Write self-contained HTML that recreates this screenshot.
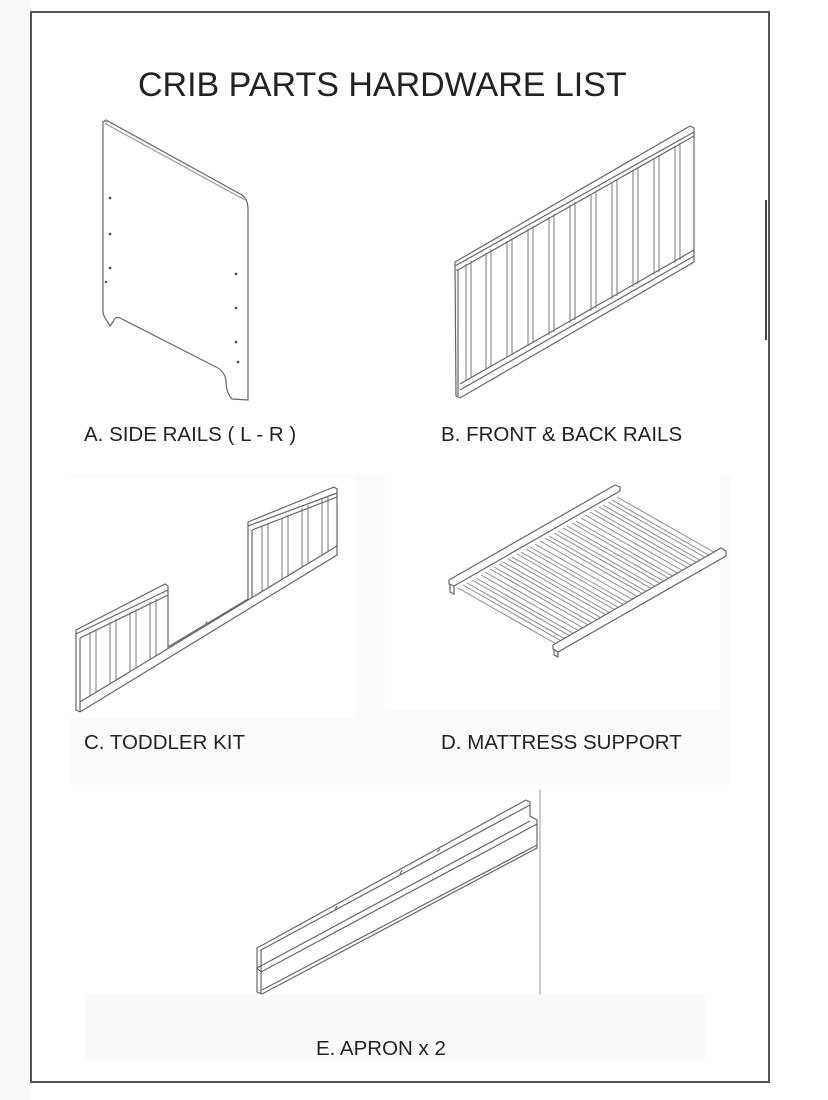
<!DOCTYPE html>
<html><head><meta charset="utf-8"><style>
html,body{margin:0;padding:0;background:#fff;}
body{width:828px;height:1100px;position:relative;overflow:hidden;font-family:"Liberation Sans",Arial,sans-serif;}
.frame{position:absolute;left:30px;top:11px;width:736px;height:1068px;border:2px solid #555;box-sizing:content-box;}
.t{position:absolute;color:#222;white-space:nowrap;}
</style></head><body>
<div style="position:absolute;left:0;top:0;width:30px;height:1100px;background:#f9f9f9"></div>
<div style="position:absolute;left:85px;top:995px;width:620px;height:65px;background:#fafafa"></div>
<div style="position:absolute;left:70px;top:475px;width:660px;height:310px;background:#fbfbfb"></div>
<div style="position:absolute;left:70px;top:478px;width:285px;height:240px;background:#fff"></div>
<div style="position:absolute;left:385px;top:470px;width:335px;height:240px;background:#fff"></div>
<div class="frame"></div>
<div class="t" style="left:138px;top:66px;font-size:34px;">CRIB PARTS HARDWARE LIST</div>
<div class="t" style="left:84px;top:423px;font-size:20.5px;">A. SIDE RAILS ( L - R )</div>
<div class="t" style="left:441px;top:423px;font-size:20.5px;">B. FRONT &amp; BACK RAILS</div>
<div class="t" style="left:84px;top:731px;font-size:20.5px;">C. TODDLER KIT</div>
<div class="t" style="left:441px;top:731px;font-size:20.5px;">D. MATTRESS SUPPORT</div>
<div class="t" style="left:316px;top:1037px;font-size:20.5px;">E. APRON x 2</div>
<svg width="828" height="1100" style="position:absolute;left:0;top:0" fill="none" stroke="#666" stroke-width="1.2">
<!-- A side rail -->
<path d="M103,122 L106,120 L242,195 Q248,199 248,210 L248,400 L232,399 Q226,393 226,380 Q224,370 214,366 L120,318 Q115,316 113,322 L110,326 L104,316 L103,312 Z"/>
<path d="M106,120 L106,124 L245,200" stroke="#999"/>
<g fill="#444" stroke="none">
<circle cx="110" cy="198" r="1.3"/><circle cx="110" cy="234" r="1.3"/><circle cx="110" cy="268" r="1.3"/><circle cx="106" cy="282" r="1.2"/>
<circle cx="236" cy="274" r="1.3"/><circle cx="236" cy="308" r="1.3"/><circle cx="236" cy="342" r="1.3"/><circle cx="238" cy="362" r="1.3"/>
</g>
<!-- B front rail -->
<path d="M455,262 L690,126 L694,128 L694,262 L460,398 L456,396 Z"/>
<path d="M455,266 L694,132 M458,270 L694,136 M456,270 L458,270 L458,396"/>
<path d="M460,384 L694,250 M460,390 L694,256"/>
<g stroke="#777" stroke-width="1">
<path d="M466,264 L466,380 M471,261 L471,377 M486,253 L486,369 M491,249 L491,366 M507,241 L507,357 M512,238 L512,354 M528,229 L528,346 M533,226 L533,343 M549,217 L549,335 M554,214 L554,332 M570,205 L570,323 M575,202 L575,320 M591,194 L591,311 M596,191 L596,308 M612,182 L612,299 M617,179 L617,296 M633,170 L633,287 M638,167 L638,284 M654,158 L654,275 M659,155 L659,272 M675,146 L675,263 M680,143 L680,260"/>
</g>
<!-- C toddler kit -->
<path d="M76,630 L165,584 L168,586 L168,647 L248,599 L248,522 L334,487 L337,489 L337,555 L80,712 L76,710 Z"/>
<path d="M76,634 L168,590 M80,638 L168,595 M80,638 L80,712"/>
<path d="M248,526 L337,493 M252,530 L337,497 M252,530 L252,597"/>
<path d="M80,702 L337,546"/>
<path d="M205,625 L207,621" stroke="#888"/>
<g stroke="#777" stroke-width="1">
<path d="M90,632 L90,696 M96,629 L96,692 M110,622 L110,684 M116,619 L116,680 M130,612 L130,672 M136,609 L136,668 M150,602 L150,660 M156,599 L156,656"/>
<path d="M262,526 L262,591 M268,523 L268,587 M282,518 L282,579 M288,515 L288,575 M302,508 L302,567 M308,505 L308,563 M322,499 L322,555 M328,496 L328,551"/>
</g>
<!-- D mattress support -->
<g stroke="#888" stroke-width="1">
<g id="sl">
<path d="M458,588 L558,645 M467,583 L567,640 M476,578 L576,635 M485,572 L585,629 M494,567 L594,624 M503,562 L603,619 M512,557 L612,614 M521,552 L621,609 M530,547 L630,604 M540,541 L640,598 M549,536 L649,593 M558,531 L658,588 M567,526 L667,583 M576,521 L676,578 M585,515 L685,572 M594,510 L694,567 M603,505 L703,562 M612,500 L712,557"/>
</g>
<g transform="translate(5,-3)">
<path d="M458,588 L558,645 M467,583 L567,640 M476,578 L576,635 M485,572 L585,629 M494,567 L594,624 M503,562 L603,619 M512,557 L612,614 M521,552 L621,609 M530,547 L630,604 M540,541 L640,598 M549,536 L649,593 M558,531 L658,588 M567,526 L667,583 M576,521 L676,578 M585,515 L685,572 M594,510 L694,567 M603,505 L703,562 M612,500 L712,557"/>
</g>
</g>
<path d="M449,580 L615,485 L620,487 L620,491 L454,586 L449,584 Z" fill="#fff"/>
<path d="M450,584 L450,592 L454,594 L454,586"/>
<path d="M553,645 L721,548 L726,551 L726,556 L558,652 L553,649 Z" fill="#fff"/>
<path d="M554,649 L554,655 L558,657 L558,652"/>
<!-- E apron -->
<path d="M257,948 L526,800 L530,802 L530,816 L537,820 L537,848 L262,994 L257,992 Z"/>
<path d="M261,950 L530,805 M261,950 L261,994 M257,968 L530,821 M261,972 L537,824 M261,972 L257,968"/>
<path d="M262,990 L537,845"/>
<path d="M335,910 L337,906 M400,874 L402,870 M437,852 L440,849"/>
<!-- vertical line -->
<path d="M540,790 L540,995" stroke="#aaa"/>
<path d="M766,200 L766,340" stroke="#444" stroke-width="2"/>
</svg>
</body></html>
